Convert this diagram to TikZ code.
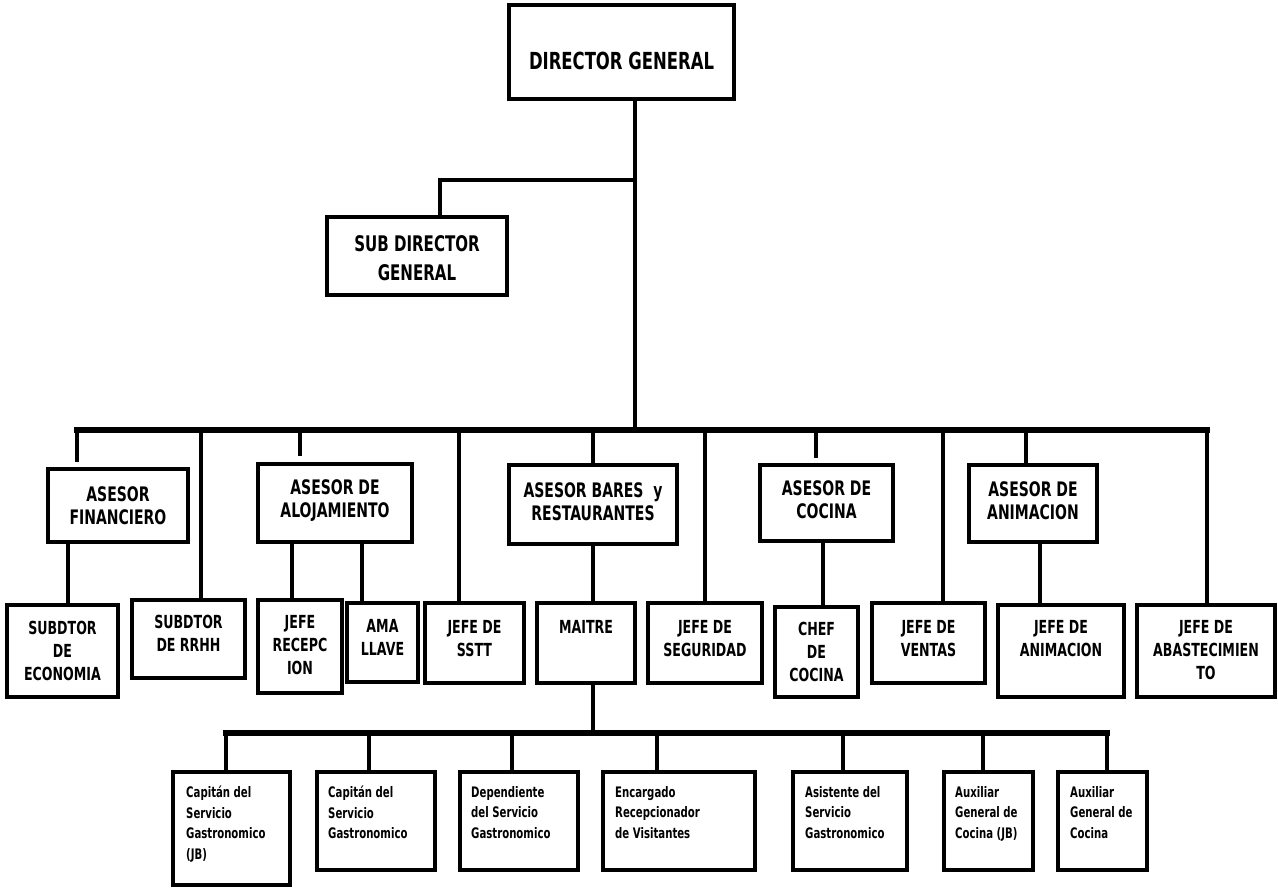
\documentclass[tikz,border=0pt]{standalone}
\usepackage{fontspec}
\setmainfont{DejaVu Sans}[FakeStretch=0.7]
\begin{document}
\begin{tikzpicture}[x=1pt,y=-1pt,
  orgbox/.style={draw=black, line width=4.2pt, fill=white, inner sep=0pt, outer sep=0pt},
  bus/.style={draw=black, line width=5.5pt, line cap=rect},
  link/.style={draw=black, line width=4pt},
  thin/.style={draw=black, line width=3.6pt},
  tdg/.style={inner sep=0pt, align=center, font=\bfseries\fontsize{23.5}{28}\selectfont},
  tsub/.style={inner sep=0pt, align=center, font=\bfseries\fontsize{21.5}{29}\selectfont},
  tone/.style={inner sep=0pt, align=center, font=\bfseries\fontsize{20}{23}\selectfont},
  ttwo/.style={inner sep=0pt, align=center, anchor=north, font=\bfseries\fontsize{18}{23}\selectfont},
  tthree/.style={inner sep=0pt, align=left, anchor=north west, font=\bfseries\fontsize{14.5}{20.5}\selectfont}]
\newcommand\obox[5]{%
  \pgfmathsetmacro\myw{#4-#2}\pgfmathsetmacro\myh{#5-#3}%
  \node[orgbox, minimum width=\myw pt, minimum height=\myh pt] (#1) at ({(#2+#4)/2},{(#3+#5)/2}) {};}
\useasboundingbox[fill=white] (0,0) rectangle (1278,890);

% ---------- coordinates for connector positions ----------
\coordinate (top) at (635,430);
\coordinate (subj) at (635,180);
\coordinate (subx) at (440,180);
\coordinate (s1) at (77,430);
\coordinate (s2) at (201,430);
\coordinate (s3) at (300,430);
\coordinate (s4) at (459,430);
\coordinate (s5) at (593,430);
\coordinate (s6) at (705,430);
\coordinate (s7) at (816,430);
\coordinate (s8) at (943,430);
\coordinate (s9) at (1026,430);
\coordinate (s10) at (1207,430);
\coordinate (k1) at (68,0);
\coordinate (k2) at (292,0);
\coordinate (k3) at (362,0);
\coordinate (k4) at (593,0);
\coordinate (k5) at (823,0);
\coordinate (k6) at (1040,0);
\coordinate (m0) at (593,733);
\coordinate (m1) at (226,733);
\coordinate (m2) at (369,733);
\coordinate (m3) at (512,733);
\coordinate (m4) at (657,733);
\coordinate (m5) at (843,733);
\coordinate (m6) at (983,733);
\coordinate (m7) at (1107,733);

% ---------- boxes ----------
\obox{dg}{509}{5}{734}{99}
\obox{sub}{327}{217}{507}{295}
\obox{afin}{48}{469}{188}{542}
\obox{aloj}{258}{464}{412}{542}
\obox{bares}{509}{465}{677}{544}
\obox{coc}{760}{465}{893}{541}
\obox{anim}{969}{465}{1097}{542}
\obox{econ}{7}{605}{118}{697}
\obox{rrhh}{132}{600}{245}{678}
\obox{recep}{258}{600}{342}{693}
\obox{ama}{347}{603}{418}{682}
\obox{sstt}{425}{603}{524}{683}
\obox{maitre}{537}{603}{635}{683}
\obox{seg}{648}{603}{762}{683}
\obox{chef}{775}{607}{858}{697}
\obox{ventas}{872}{603}{985}{683}
\obox{janim}{998}{605}{1124}{697}
\obox{abast}{1137}{605}{1275}{697}
\obox{ca}{173}{772}{290}{885}
\obox{cb}{317}{772}{435}{870}
\obox{cc}{460}{772}{578}{870}
\obox{cd}{603}{772}{755}{870}
\obox{ce}{793}{772}{907}{870}
\obox{cf}{944}{772}{1033}{870}
\obox{cg}{1058}{772}{1147}{870}

% ---------- texts ----------
\node[tdg] (dg-t) at ([yshift=-9]dg.center) {DIRECTOR GENERAL};
\node[tsub] (sub-t) at ([yshift=-2]sub.center) {SUB DIRECTOR\\GENERAL};
\node[tone] (afin-t) at (afin.center) {ASESOR\\FINANCIERO};
\node[tone] (aloj-t) at ([yshift=2]aloj.center) {ASESOR DE\\ALOJAMIENTO};
\node[tone] (bares-t) at ([yshift=3]bares.center) {ASESOR BARES\ \ y\\RESTAURANTES};
\node[tone] (coc-t) at ([yshift=3]coc.center) {ASESOR DE\\COCINA};
\node[tone] (anim-t) at ([yshift=3]anim.center) {ASESOR DE\\ANIMACION};

\node[ttwo] (econ-t) at ([yshift=-16]econ.north) {SUBDTOR\\DE\\ECONOMIA};
\node[ttwo] (rrhh-t) at ([yshift=-15]rrhh.north) {SUBDTOR\\DE RRHH};
\node[ttwo] (recep-t) at ([yshift=-15]recep.north) {JEFE\\RECEPC\\ION};
\node[ttwo] (ama-t) at ([yshift=-16]ama.north) {AMA\\LLAVE};
\node[ttwo] (sstt-t) at ([yshift=-17]sstt.north) {JEFE DE\\SSTT};
\node[ttwo] (maitre-t) at ([yshift=-17]maitre.north) {MAITRE};
\node[ttwo] (seg-t) at ([yshift=-17]seg.north) {JEFE DE\\SEGURIDAD};
\node[ttwo] (chef-t) at ([yshift=-15]chef.north) {CHEF\\DE\\COCINA};
\node[ttwo] (ventas-t) at ([yshift=-17]ventas.north) {JEFE DE\\VENTAS};
\node[ttwo] (janim-t) at ([yshift=-15]janim.north) {JEFE DE\\ANIMACION};
\node[ttwo] (abast-t) at ([yshift=-15]abast.north) {JEFE DE\\ABASTECIMIEN\\TO};

\node[tthree] (ca-t) at ([xshift=13,yshift=-14]ca.north west) {Capitán del\\Servicio\\Gastronomico\\(JB)};
\node[tthree] (cb-t) at ([xshift=11,yshift=-14]cb.north west) {Capitán del\\Servicio\\Gastronomico};
\node[tthree] (cc-t) at ([xshift=11,yshift=-14]cc.north west) {Dependiente\\del Servicio\\Gastronomico};
\node[tthree] (cd-t) at ([xshift=12,yshift=-14]cd.north west) {Encargado\\Recepcionador\\de Visitantes};
\node[tthree] (ce-t) at ([xshift=12,yshift=-14]ce.north west) {Asistente del\\Servicio\\Gastronomico};
\node[tthree] (cf-t) at ([xshift=11,yshift=-14]cf.north west) {Auxiliar\\General de\\Cocina (JB)};
\node[tthree] (cg-t) at ([xshift=12,yshift=-14]cg.north west) {Auxiliar\\General de\\Cocina};

% ---------- connectors ----------
\draw[link] (top |- dg.south) -- (top);
\draw[link] (subj) -- (subx) -- (subx |- sub.north);

% main bus
\draw[bus] (s1) -- (s10);
\draw[link, shorten >=7pt] (s1) -- (s1 |- afin.north);
\draw[thin] (s2) -- (s2 |- rrhh.north);
\draw[link, shorten >=8pt] (s3) -- (s3 |- aloj.north);
\draw[thin] (s4) -- (s4 |- sstt.north);
\draw[link] (s5) -- (s5 |- bares.north);
\draw[thin] (s6) -- (s6 |- seg.north);
\draw[link, shorten >=7pt] (s7) -- (s7 |- coc.north);
\draw[thin] (s8) -- (s8 |- ventas.north);
\draw[link] (s9) -- (s9 |- anim.north);
\draw[link] (s10) -- (s10 |- abast.north);

% advisors to row 2
\draw[thin] (k1 |- afin.south) -- (k1 |- econ.north);
\draw[thin] (k2 |- aloj.south) -- (k2 |- recep.north);
\draw[thin] (k3 |- aloj.south) -- (k3 |- ama.north);
\draw[thin] (k4 |- bares.south) -- (k4 |- maitre.north);
\draw[thin] (k5 |- coc.south) -- (k5 |- chef.north);
\draw[thin] (k6 |- anim.south) -- (k6 |- janim.north);

% maitre bus
\draw[thin] (m0 |- maitre.south) -- (m0);
\draw[bus] (m1) -- (m7);
\draw[link] (m1) -- (m1 |- ca.north);
\draw[thin] (m2) -- (m2 |- cb.north);
\draw[thin] (m3) -- (m3 |- cc.north);
\draw[thin] (m4) -- (m4 |- cd.north);
\draw[thin] (m5) -- (m5 |- ce.north);
\draw[thin] (m6) -- (m6 |- cf.north);
\draw[link] (m7) -- (m7 |- cg.north);
\end{tikzpicture}
\end{document}
